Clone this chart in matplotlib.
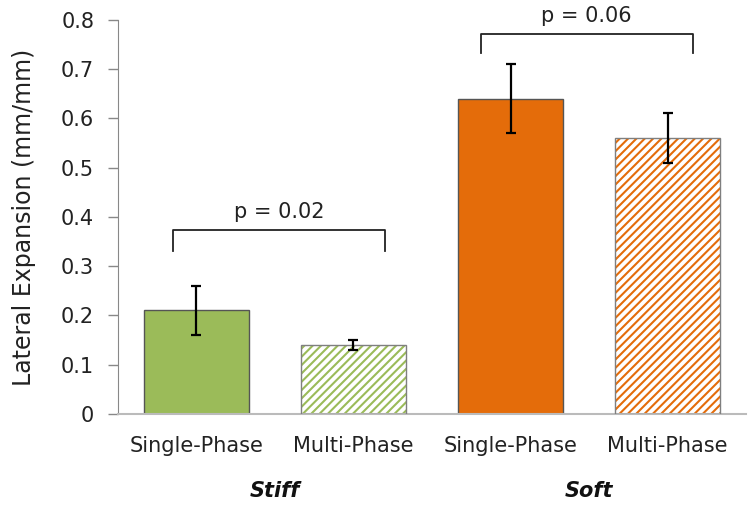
import numpy as np
import matplotlib.pyplot as plt
import matplotlib.transforms as mtransforms

# values
categories = ["Single-Phase", "Multi-Phase", "Single-Phase", "Multi-Phase"]
groups = ["Stiff", "Soft"]
means = [0.21, 0.14, 0.64, 0.56]
errors = [0.05, 0.01, 0.07, 0.05]
p_labels = ["p = 0.02", "p = 0.06"]

green = "#9BBB59"
orange = "#E46C0A"
colors = [green, green, orange, orange]
hatched = [False, True, False, True]

plt.rcParams["font.family"] = ["DejaVu Sans"]
plt.rcParams["hatch.linewidth"] = 1.5

fig = plt.figure(figsize=(7.5, 5.11), dpi=100)
ax = fig.add_axes([0.157, 0.19, 0.838, 0.771])

x = np.arange(len(categories))
for i in range(len(categories)):
    if hatched[i]:
        ax.bar(x[i], means[i], width=0.67, color="white", edgecolor=colors[i],
               hatch="////", linewidth=0, zorder=2)
        ax.bar(x[i], means[i], width=0.67, fill=False, edgecolor="#7f7f7f",
               linewidth=1.0, zorder=3)
    else:
        ax.bar(x[i], means[i], width=0.67, color=colors[i], edgecolor="#555555",
               linewidth=1.0, zorder=2)
ax.errorbar(x, means, yerr=errors, fmt="none", ecolor="black", elinewidth=1.6,
            capsize=3.5, capthick=1.6, zorder=4)

# significance brackets
brackets = [(-0.15, 1.2, 0.33, 0.374), (1.81, 3.16, 0.733, 0.772)]
for (x0, x1, ylo, yhi), lab in zip(brackets, p_labels):
    ax.plot([x0, x0, x1, x1], [ylo, yhi, yhi, ylo], color="#222222", lw=1.3,
            clip_on=False)
    ax.text((x0 + x1) / 2, yhi + 0.016, lab, ha="center", va="bottom",
            fontsize=15, color="#222222", clip_on=False)

ax.set_xlim(-0.5, 3.5)
ax.set_ylim(0, 0.8)
ax.set_yticks(np.arange(0, 0.81, 0.1))
ax.set_yticklabels(["0"] + ["%.1f" % v for v in np.arange(0.1, 0.81, 0.1)])
ax.set_xticks(x)
ax.set_xticklabels(categories)
ax.tick_params(axis="x", length=0, pad=16, labelsize=15, labelcolor="#222222")
ax.tick_params(axis="y", length=7, width=1, color="#888888", labelsize=15,
               labelcolor="#222222", pad=10)
ax.set_ylabel("Lateral Expansion (mm/mm)", fontsize=17, color="#222222",
              labelpad=18)

for s in ["top", "right"]:
    ax.spines[s].set_visible(False)
ax.spines["left"].set_color("#888888")
ax.spines["bottom"].set_color("#bbbbbb")
ax.spines["bottom"].set_linewidth(1.5)

trans = mtransforms.blended_transform_factory(ax.transData, ax.transAxes)
for gx, g in zip([0.5, 2.5], groups):
    ax.text(gx, -0.195, g, transform=trans, ha="center", va="center",
            fontsize=15, fontweight="bold", fontstyle="italic", color="#111111")

fig.savefig("out.png", dpi=100)
